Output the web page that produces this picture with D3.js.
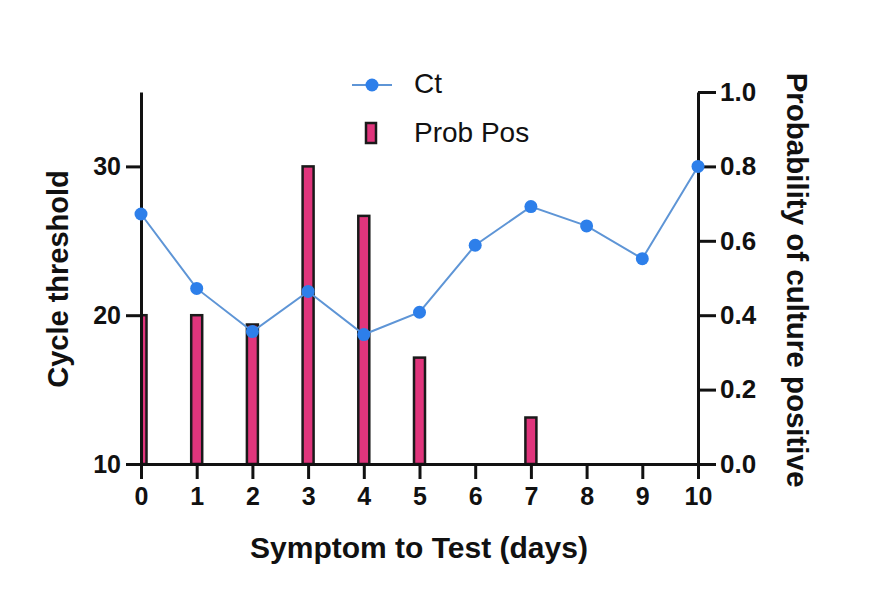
<!DOCTYPE html>
<html>
<head>
<meta charset="utf-8">
<script src="https://cdn.jsdelivr.net/npm/d3@7"></script>
<style>
  body { margin: 0; background: #fff; }
  text { font-family: "Liberation Sans", Arial, sans-serif; fill: #111; }
</style>
</head>
<body>
<div id="chart"></div>
<script>
// days from symptom onset to test
const days = [0, 1, 2, 3, 4, 5, 6, 7, 8, 9, 10];
// cycle threshold (left axis)
const ctValues = [26.8, 21.8, 18.9, 21.6, 18.7, 20.2, 24.7, 27.3, 26.0, 23.8, 30.0];
// probability of culture positive (right axis)
const probPos = [0.4, 0.4, 0.375, 0.8, 0.667, 0.286, 0, 0.125, 0, 0, 0];
const leftTicks = [10, 20, 30];
const rightTicks = [0, 0.2, 0.4, 0.6, 0.8, 1.0];

const width = 883, height = 608;
const colors = {
    line: '#5e95d6',
    dot: '#2d7fea',
    bar: '#e0357c',
    axis: '#111'
};

const svg = d3.select('#chart').append('svg')
    .attr('width', width)
    .attr('height', height);

const plot = { left: 141, right: 698, top: 92, bottom: 464 };

const x = d3.scaleLinear().domain([0, 10]).range([plot.left, plot.right]);
const yLeft = d3.scaleLinear().domain([10, 35]).range([plot.bottom, plot.top]);
const yRight = d3.scaleLinear().domain([0, 1]).range([plot.bottom, plot.top]);

// clip so the day-0 bar is cut at the left axis
svg.append('clipPath').attr('id', 'plotClip')
    .append('rect')
    .attr('x', plot.left).attr('y', 0)
    .attr('width', plot.right - plot.left + 20).attr('height', plot.bottom);

// bars
const barW = 11;
svg.append('g').attr('clip-path', 'url(#plotClip)')
    .selectAll('rect')
    .data(days.map((d, i) => ({ day: d, p: probPos[i] })).filter(d => d.p > 0))
    .enter().append('rect')
    .attr('x', d => x(d.day) - barW / 2)
    .attr('y', d => yRight(d.p))
    .attr('width', barW)
    .attr('height', d => yRight(0) - yRight(d.p))
    .attr('fill', colors.bar)
    .attr('stroke', '#1a1a1a')
    .attr('stroke-width', 2.5);

// axes
function styleAxis(g, fontSize) {
    g.select('.domain').attr('stroke', colors.axis).attr('stroke-width', 3);
    g.selectAll('.tick line').attr('stroke', colors.axis).attr('stroke-width', 3);
    g.selectAll('.tick text')
        .attr('fill', '#111')
        .style('font-size', fontSize + 'px')
        .style('font-weight', 'bold')
        .style('font-family', '"Liberation Sans", Arial, sans-serif');
}

svg.append('g')
    .attr('transform', `translate(0, ${plot.bottom})`)
    .call(d3.axisBottom(x).tickValues(days).tickSize(15).tickPadding(8).tickSizeOuter(0))
    .call(g => styleAxis(g, 25));

svg.append('g')
    .attr('transform', `translate(${plot.left}, 0)`)
    .call(d3.axisLeft(yLeft).tickValues(leftTicks).tickSize(15).tickPadding(5).tickSizeOuter(0))
    .call(g => styleAxis(g, 25));

svg.append('g')
    .attr('transform', `translate(${plot.right}, 0)`)
    .call(d3.axisRight(yRight).tickValues(rightTicks).tickFormat(d3.format('.1f'))
        .tickSize(18).tickPadding(4).tickSizeOuter(0))
    .call(g => styleAxis(g, 26));

// Ct line + dots
const ctData = days.map((d, i) => ({ day: d, ct: ctValues[i] }));
svg.append('path')
    .datum(ctData)
    .attr('fill', 'none')
    .attr('stroke', colors.line)
    .attr('stroke-width', 2)
    .attr('d', d3.line().x(d => x(d.day)).y(d => yLeft(d.ct)));

svg.selectAll('.dot')
    .data(ctData)
    .enter().append('circle')
    .attr('class', 'dot')
    .attr('cx', d => x(d.day))
    .attr('cy', d => yLeft(d.ct))
    .attr('r', 6.5)
    .attr('fill', colors.dot);

// axis titles
svg.append('text')
    .attr('x', (250 + 588) / 2)
    .attr('y', 558)
    .attr('text-anchor', 'middle')
    .style('font-size', '30px')
    .style('font-weight', 'bold')
    .text('Symptom to Test (days)');

svg.append('text')
    .attr('transform', 'translate(68, 279) rotate(-90)')
    .attr('text-anchor', 'middle')
    .style('font-size', '29px')
    .style('font-weight', 'bold')
    .text('Cycle threshold');

svg.append('text')
    .attr('transform', 'translate(787, 280) rotate(90)')
    .attr('text-anchor', 'middle')
    .style('font-size', '29.5px')
    .style('font-weight', 'bold')
    .text('Probability of culture positive');

// legend
const legend = svg.append('g');
legend.append('line')
    .attr('x1', 352).attr('x2', 392).attr('y1', 85).attr('y2', 85)
    .attr('stroke', colors.line).attr('stroke-width', 2);
legend.append('circle')
    .attr('cx', 372).attr('cy', 85).attr('r', 6.5)
    .attr('fill', colors.dot);
legend.append('text')
    .attr('x', 414).attr('y', 93)
    .style('font-size', '28px')
    .text('Ct');
legend.append('rect')
    .attr('x', 366).attr('y', 123).attr('width', 10).attr('height', 20)
    .attr('fill', colors.bar).attr('stroke', '#1a1a1a').attr('stroke-width', 2.5);
legend.append('text')
    .attr('x', 414).attr('y', 142)
    .style('font-size', '28px')
    .text('Prob Pos');
</script>
</body>
</html>
